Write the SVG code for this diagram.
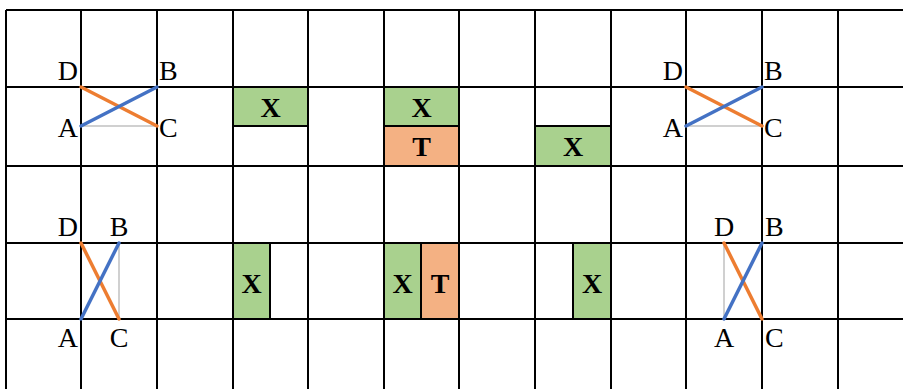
<svg xmlns="http://www.w3.org/2000/svg" width="903" height="389" viewBox="0 0 903 389">
<style>
.grid{stroke:#000;stroke-width:2;fill:none}
.g{fill:#A9D18E}
.o{fill:#F4B183}
.lbl{font-family:"Liberation Serif","Times New Roman",serif;font-size:28px;fill:#000}
.bx{font-family:"Liberation Serif","Times New Roman",serif;font-size:28px;font-weight:bold;fill:#000;text-anchor:middle}
.blue{stroke:#4472C4;stroke-width:3.5;stroke-linecap:round}
.orange{stroke:#ED7D31;stroke-width:3.5;stroke-linecap:round}
.gray{stroke:#D0D0D0;stroke-width:2}
</style>
<rect width="903" height="389" fill="#fff"/>
<g id="cells">
  <g id="box-r1c3"><rect class="g" x="233" y="87" width="75" height="39"/><text class="bx" x="270.5" y="116.5">X</text></g>
  <g id="box-r1c5"><rect class="g" x="384" y="87" width="75" height="39"/><text class="bx" x="421.5" y="116.5">X</text>
    <rect class="o" x="384" y="126" width="75" height="40"/><text class="bx" x="421.5" y="156">T</text></g>
  <g id="box-r1c7"><rect class="g" x="535" y="126" width="76" height="40"/><text class="bx" x="573" y="156">X</text></g>
  <g id="box-r2c3"><rect class="g" x="233" y="243" width="37" height="76"/><text class="bx" x="251.5" y="292.5">X</text></g>
  <g id="box-r2c5"><rect class="g" x="384" y="243" width="37" height="76"/><text class="bx" x="402.5" y="292.5">X</text>
    <rect class="o" x="421" y="243" width="38" height="76"/><text class="bx" x="440" y="292.5">T</text></g>
  <g id="box-r2c7"><rect class="g" x="573" y="243" width="38" height="76"/><text class="bx" x="592" y="292.5">X</text></g>
</g>
<g id="gridlines" class="grid">
  <path d="M6 10V389M81 10V389M157 10V389M233 10V389M308 10V389M384 10V389M459 10V389M535 10V389M611 10V389M686 10V389M762 10V389M838 10V389"/>
  <path d="M6 10H903M6 87H903M6 166H903M6 243H903M6 319H903"/>
  <path d="M233 126H308M384 126H459M535 126H611M270 243V319M421 243V319M573 243V319"/>
</g>
<g id="connectors">
  <line class="gray" x1="81" y1="126" x2="157" y2="126"/>
  <line class="orange" x1="81" y1="87" x2="157" y2="126"/>
  <line class="blue" x1="81" y1="126" x2="157" y2="87"/>
  <line class="gray" x1="686" y1="126" x2="762" y2="126"/>
  <line class="orange" x1="686" y1="87" x2="762" y2="126"/>
  <line class="blue" x1="686" y1="126" x2="762" y2="87"/>
  <line class="gray" x1="119" y1="243" x2="119" y2="319"/>
  <line class="orange" x1="81" y1="243" x2="119" y2="319"/>
  <line class="blue" x1="81" y1="319" x2="119" y2="243"/>
  <line class="gray" x1="724" y1="243" x2="724" y2="319"/>
  <line class="orange" x1="724" y1="243" x2="762" y2="319"/>
  <line class="blue" x1="724" y1="319" x2="762" y2="243"/>
</g>
<g id="labels-1">
  <text class="lbl" x="78" y="80" text-anchor="end">D</text>
  <text class="lbl" x="159" y="80">B</text>
  <text class="lbl" x="78" y="137" text-anchor="end">A</text>
  <text class="lbl" x="159" y="137">C</text>
</g>
<g id="labels-2">
  <text class="lbl" x="683" y="80" text-anchor="end">D</text>
  <text class="lbl" x="764" y="80">B</text>
  <text class="lbl" x="683" y="137" text-anchor="end">A</text>
  <text class="lbl" x="764" y="137">C</text>
</g>
<g id="labels-3">
  <text class="lbl" x="78" y="236" text-anchor="end">D</text>
  <text class="lbl" x="119" y="236" text-anchor="middle">B</text>
  <text class="lbl" x="78" y="347" text-anchor="end">A</text>
  <text class="lbl" x="119" y="347" text-anchor="middle">C</text>
</g>
<g id="labels-4">
  <text class="lbl" x="724" y="236" text-anchor="middle">D</text>
  <text class="lbl" x="765" y="236">B</text>
  <text class="lbl" x="724" y="347" text-anchor="middle">A</text>
  <text class="lbl" x="765" y="347">C</text>
</g>
</svg>
